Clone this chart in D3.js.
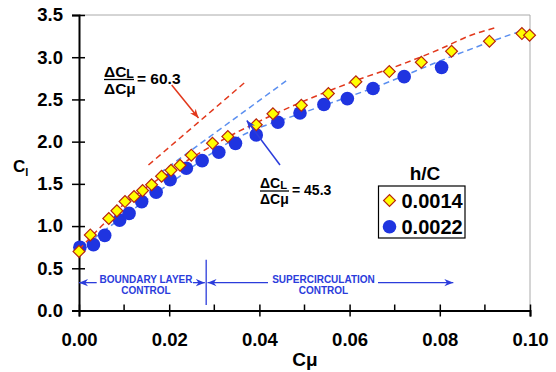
<!DOCTYPE html>
<html><head><meta charset="utf-8">
<script src="https://cdn.jsdelivr.net/npm/d3@7"></script>
<style>body{margin:0;background:#fff}svg{display:block;font-family:Arial,"Liberation Sans",sans-serif;font-weight:bold}</style>
</head><body><svg id="c" width="556" height="372"></svg>
<script>
// ---- data ----
const seriesNames = ["0.0014", "0.0022"];
const diamondX = [0.0, 0.0025, 0.0066, 0.0084, 0.0102, 0.0122, 0.0141, 0.0161, 0.0183, 0.0204, 0.0224, 0.0249, 0.0296, 0.033, 0.0393, 0.043, 0.0493, 0.0553, 0.0614, 0.0688, 0.0759, 0.0826, 0.091, 0.0982, 0.0999];
const diamondY = [0.70, 0.895, 1.09, 1.18, 1.29, 1.35, 1.42, 1.49, 1.59, 1.66, 1.72, 1.84, 1.98, 2.06, 2.20, 2.33, 2.43, 2.57, 2.71, 2.83, 2.94, 3.07, 3.19, 3.28, 3.26];
const circleX = [0.0002, 0.0032, 0.0057, 0.0090, 0.0111, 0.0139, 0.0171, 0.0202, 0.0238, 0.0273, 0.031, 0.0347, 0.0393, 0.0441, 0.049, 0.0543, 0.0595, 0.0652, 0.0721, 0.0804];
const circleY = [0.75, 0.78, 0.89, 1.07, 1.15, 1.29, 1.40, 1.55, 1.685, 1.775, 1.875, 1.98, 2.08, 2.23, 2.34, 2.44, 2.51, 2.63, 2.77, 2.88];
// fitted trend curves
const redFitX = [0, 0.005, 0.01, 0.015, 0.02, 0.0298, 0.0431, 0.0617, 0.0713, 0.0802, 0.0869, 0.0924];
const redFitY = [0.72, 1.00, 1.26, 1.46, 1.64, 1.96, 2.32, 2.73, 2.91, 3.10, 3.26, 3.35];
const blueFitX = [0, 0.01, 0.02, 0.0342, 0.038, 0.049, 0.0669, 0.0817, 0.0958, 0.098];
const blueFitY = [0.72, 1.12, 1.50, 2.02, 2.12, 2.33, 2.67, 2.99, 3.27, 3.31];
// tangent lines
const redTanX = [0.0154, 0.0367];
const redTanY = [1.723, 2.698];
const blueTanX = [0.0180, 0.0464];
const blueTanY = [1.629, 2.738];
const xTicks = [0, 0.02, 0.04, 0.06, 0.08, 0.10];
const xMinor = [0.01, 0.03, 0.05, 0.07, 0.09];
const yTicks = [0, 0.5, 1.0, 1.5, 2.0, 2.5, 3.0, 3.5];
const slopeLabels = ["60.3", "45.3"];
const regionLabels = [["BOUNDARY LAYER", "CONTROL"], ["SUPERCIRCULATION", "CONTROL"]];

// ---- chart ----
const svg = d3.select("#c");
const x = d3.scaleLinear().domain([0, 0.1]).range([79, 530]);
const y = d3.scaleLinear().domain([0, 3.5]).range([310.5, 15]);

const BLUE = "#2b3cdb", CIRC = "#1f34e0", RED = "#e2381c", LBLUE = "#5b8ff0";

const defs = svg.append("defs");
function marker(id, col) {
  defs.append("marker").attr("id", id).attr("viewBox", "0 0 10 10").attr("refX", 10).attr("refY", 5)
    .attr("markerWidth", 9).attr("markerHeight", 9).attr("markerUnits", "userSpaceOnUse").attr("orient", "auto")
    .append("path").attr("d", "M0,1 L10,5 L0,9 L3,5 Z").attr("fill", col);
}
marker("ar", RED); marker("ab", BLUE);

// plot frame (gray top & right)
svg.append("path").attr("d", `M${x(0)},${y(3.5)}H${x(0.1)}V${y(0)}`).attr("fill", "none").attr("stroke", "#aaa").attr("stroke-width", 1);

// axes
const xAxis = svg.append("g").attr("transform", `translate(0,${y(0)})`)
  .call(d3.axisBottom(x).tickValues(xTicks).tickFormat(d3.format(".2f")).tickSize(6).tickPadding(16));
xAxis.selectAll(".tick line").attr("y1", -6).attr("stroke-width", 1.5);
xAxis.selectAll(".tick text").attr("font-size", 18.5).attr("font-weight", "bold").attr("fill", "#000");
xAxis.select(".domain").attr("stroke-width", 2);
svg.append("g").selectAll("line").data(xMinor).join("line")
  .attr("x1", d => x(d)).attr("x2", d => x(d)).attr("y1", y(0) - 6).attr("y2", y(0)).attr("stroke", "#000").attr("stroke-width", 1.5);

const yAxis = svg.append("g").attr("transform", `translate(${x(0)},0)`)
  .call(d3.axisLeft(y).tickValues(yTicks).tickFormat(d3.format(".1f")).tickSize(7).tickPadding(9));
yAxis.selectAll(".tick line").attr("x1", 6).attr("stroke-width", 1.5);
yAxis.selectAll(".tick text").attr("font-size", 18.5).attr("font-weight", "bold").attr("fill", "#000");
yAxis.select(".domain").attr("stroke-width", 2);

// axis titles
svg.append("text").attr("x", 305).attr("y", 366).attr("text-anchor", "middle").attr("font-size", 19).text("Cμ");
const yt = svg.append("text").attr("x", 13).attr("y", 172).attr("font-size", 17);
yt.append("tspan").text("C");
yt.append("tspan").attr("font-size", 11).attr("dy", 4).text("l");

// trend curves
const line = d3.line().x(d => x(d[0])).y(d => y(d[1])).curve(d3.curveMonotoneX);
const zip = (a, b) => a.map((v, i) => [v, b[i]]);
svg.append("path").datum(zip(blueFitX, blueFitY)).attr("d", line).attr("fill", "none").attr("stroke", LBLUE).attr("stroke-width", 1.5).attr("stroke-dasharray", "6,4");
svg.append("path").datum(zip(blueTanX, blueTanY)).attr("d", line).attr("fill", "none").attr("stroke", LBLUE).attr("stroke-width", 1.5).attr("stroke-dasharray", "6,4");
svg.append("path").datum(zip(redTanX, redTanY)).attr("d", line).attr("fill", "none").attr("stroke", RED).attr("stroke-width", 1.5).attr("stroke-dasharray", "6,4");

// circles
svg.append("g").selectAll("circle").data(zip(circleX, circleY)).join("circle")
  .attr("cx", d => x(d[0])).attr("cy", d => y(d[1])).attr("r", 6.8).attr("fill", CIRC);
svg.append("path").datum(zip(redFitX, redFitY)).attr("d", line).attr("fill", "none").attr("stroke", RED).attr("stroke-width", 1.5).attr("stroke-dasharray", "6,4");
// diamonds
svg.append("g").selectAll("path").data(zip(diamondX, diamondY)).join("path")
  .attr("d", d3.symbol().type(d3.symbolSquare).size(70))
  .attr("transform", d => `translate(${x(d[0])},${y(d[1])}) rotate(45)`)
  .attr("fill", "#ffff00").attr("stroke", "#b8260f").attr("stroke-width", 1.2);

// slope annotations
function frac(x0, yNum, w, fs, val) {
  const g = svg.append("g");
  const t1 = g.append("text").attr("x", x0).attr("y", yNum).attr("font-size", fs);
  t1.append("tspan").text("ΔC");
  t1.append("tspan").attr("font-size", fs * 0.8).attr("dy", 1).text("L");
  const ly = yNum + 3;
  g.append("line").attr("x1", x0).attr("x2", x0 + w).attr("y1", ly).attr("y2", ly).attr("stroke", "#000").attr("stroke-width", 1.3);
  g.append("text").attr("x", x0).attr("y", yNum + fs * 1.08 + 1).attr("font-size", fs).text("ΔCμ");
  g.append("text").attr("x", x0 + w + 3).attr("y", ly + fs * 0.3).attr("font-size", fs).text("= " + val);
}
frac(104, 76.5, 30, 15.5, slopeLabels[0]);
frac(260, 188, 29, 14, slopeLabels[1]);

// arrows to tangent lines
svg.append("line").attr("x1", 171.7).attr("y1", 85).attr("x2", x(0.0265)).attr("y2", y(2.28))
  .attr("stroke", RED).attr("stroke-width", 1.5).attr("marker-end", "url(#ar)");
svg.append("line").attr("x1", 280).attr("y1", 165).attr("x2", x(0.0372)).attr("y2", y(2.25))
  .attr("stroke", BLUE).attr("stroke-width", 1.5).attr("marker-end", "url(#ab)");

// region annotations
const ay = y(0.33);
svg.append("line").attr("x1", x(0.0282)).attr("x2", x(0.0282)).attr("y1", y(0.6)).attr("y2", y(0.065)).attr("stroke", BLUE).attr("stroke-width", 1.3);
[[96.7, x(0)], [193, x(0.0279)], [268, x(0.0285)], [378, x(0.083)]].forEach(([a, b]) => {
  svg.append("line").attr("x1", a).attr("x2", b).attr("y1", ay).attr("y2", ay).attr("stroke", BLUE).attr("stroke-width", 1.3).attr("marker-end", "url(#ab)");
});
[[146, regionLabels[0]], [323.5, regionLabels[1]]].forEach(([cx, lines]) => {
  lines.forEach((s, i) => svg.append("text").attr("x", cx).attr("y", 283 + i * 11.3).attr("text-anchor", "middle")
    .attr("font-size", 10).attr("fill", BLUE).text(s));
});

// legend
svg.append("text").attr("x", 425).attr("y", 180).attr("text-anchor", "middle").attr("font-size", 19).text("h/C");
svg.append("rect").attr("x", 378.5).attr("y", 186).attr("width", 86.5).attr("height", 52).attr("fill", "#fff").attr("stroke", "#000").attr("stroke-width", 1.2);
svg.append("path").attr("d", d3.symbol().type(d3.symbolSquare).size(70)).attr("transform", "translate(389.5,200.5) rotate(45)")
  .attr("fill", "#ffff00").attr("stroke", "#b8260f").attr("stroke-width", 1.2);
svg.append("circle").attr("cx", 389.5).attr("cy", 226.7).attr("r", 6.8).attr("fill", CIRC);
seriesNames.forEach((s, i) => svg.append("text").attr("x", 401.5).attr("y", 207.5 + i * 26.5).attr("font-size", 20).text(s));
</script></body></html>
